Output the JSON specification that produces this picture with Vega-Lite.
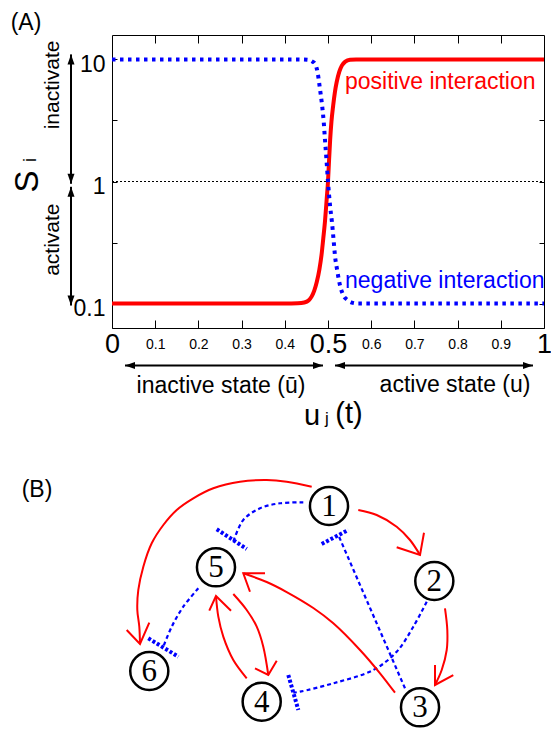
{
  "$schema": "https://vega.github.io/schema/vega-lite/v6.json",
  "width": 432,
  "height": 293,
  "autosize": "none",
  "padding": {"left": 112, "top": 35, "right": 7, "bottom": 402},
  "background": "white",
  "config": {
    "view": {"stroke": "black", "strokeWidth": 1},
    "font": "Liberation Sans",
    "axis": {"grid": false, "domain": false, "title": null, "labelFont": "Liberation Sans", "labelColor": "black", "tickColor": "black", "tickWidth": 1, "labelOverlap": false, "labelFlush": false, "labelBound": false}
  },
  "datasets": {
    "positive": [
      {"u": 0, "s": 0.1}, {"u": 0.4, "s": 0.1}, {"u": 0.43, "s": 0.1005}, {"u": 0.445, "s": 0.102},
      {"u": 0.455, "s": 0.106}, {"u": 0.462, "s": 0.114}, {"u": 0.468, "s": 0.127}, {"u": 0.474, "s": 0.15},
      {"u": 0.48, "s": 0.19}, {"u": 0.485, "s": 0.25}, {"u": 0.489, "s": 0.34}, {"u": 0.493, "s": 0.47},
      {"u": 0.497, "s": 0.72}, {"u": 0.5, "s": 1.0}, {"u": 0.5025, "s": 1.5}, {"u": 0.505, "s": 2.2},
      {"u": 0.508, "s": 3.1}, {"u": 0.512, "s": 4.2}, {"u": 0.516, "s": 5.4}, {"u": 0.52, "s": 6.5},
      {"u": 0.526, "s": 7.9}, {"u": 0.532, "s": 8.9}, {"u": 0.54, "s": 9.6}, {"u": 0.551, "s": 9.95},
      {"u": 0.565, "s": 10}, {"u": 1, "s": 10}
    ],
    "negative": [
      {"u": 0, "s": 10}, {"u": 0.42, "s": 10}, {"u": 0.44, "s": 9.98}, {"u": 0.455, "s": 9.9},
      {"u": 0.464, "s": 9.6}, {"u": 0.47, "s": 9.2}, {"u": 0.476, "s": 7.8}, {"u": 0.4815, "s": 5.7},
      {"u": 0.486, "s": 4.3}, {"u": 0.49, "s": 3.1}, {"u": 0.493, "s": 2.2}, {"u": 0.4965, "s": 1.5},
      {"u": 0.5, "s": 1.0}, {"u": 0.505, "s": 0.62}, {"u": 0.509, "s": 0.47}, {"u": 0.513, "s": 0.33},
      {"u": 0.516, "s": 0.25}, {"u": 0.521, "s": 0.19}, {"u": 0.528, "s": 0.14}, {"u": 0.535, "s": 0.118},
      {"u": 0.545, "s": 0.107}, {"u": 0.555, "s": 0.102}, {"u": 0.57, "s": 0.1}, {"u": 1, "s": 0.1}
    ],
    "level": [{"u": 0, "s": 1}, {"u": 1, "s": 1}],
    "curveLabels": [
      {"u": 0.5394, "s": 5.73, "label": "positive interaction", "sign": "positive"},
      {"u": 0.5394, "s": 0.135, "label": "negative interaction", "sign": "negative"}
    ],
    "arrowShafts": [
      {"u": -0.0949, "s": 10.99, "u2": -0.0949, "s2": 0.958},
      {"u": -0.0949, "s": 0.905, "u2": -0.0949, "s2": 0.0964},
      {"u": 0.0301, "s": 0.0311, "u2": 0.4884, "s2": 0.0311},
      {"u": 0.5162, "s": 0.0311, "u2": 0.9745, "s2": 0.0311}
    ],
    "arrowTips": [
      {"u": -0.0949, "s": 10.99, "points": "up"},
      {"u": -0.0949, "s": 0.958, "points": "down"},
      {"u": -0.0949, "s": 0.905, "points": "up"},
      {"u": -0.0949, "s": 0.0964, "points": "down"},
      {"u": 0.0301, "s": 0.0311, "points": "left"},
      {"u": 0.4884, "s": 0.0311, "points": "right"},
      {"u": 0.5162, "s": 0.0311, "points": "left"},
      {"u": 0.9745, "s": 0.0311, "points": "right"}
    ],
    "nodes": [
      {"id": "1", "x": 50.23, "y": 51.85},
      {"id": "2", "x": 74.61, "y": 34.49},
      {"id": "3", "x": 71.3, "y": 5.25},
      {"id": "4", "x": 34.65, "y": 6.55},
      {"id": "5", "x": 24.07, "y": 37.66},
      {"id": "6", "x": 8.63, "y": 13.66}
    ],
    "activation": [
      {"edge": "1-6", "i": 0, "x": 46.23, "y": 56.32}, {"edge": "1-6", "i": 1, "x": 40.44, "y": 57.48},
      {"edge": "1-6", "i": 2, "x": 35.81, "y": 57.87}, {"edge": "1-6", "i": 3, "x": 29.63, "y": 57.48},
      {"edge": "1-6", "i": 4, "x": 23.45, "y": 55.95}, {"edge": "1-6", "i": 5, "x": 18.82, "y": 53.63},
      {"edge": "1-6", "i": 6, "x": 14.98, "y": 50.93}, {"edge": "1-6", "i": 7, "x": 11.88, "y": 47.45},
      {"edge": "1-6", "i": 8, "x": 9.19, "y": 43.22}, {"edge": "1-6", "i": 9, "x": 7.25, "y": 37.8},
      {"edge": "1-6", "i": 10, "x": 6.09, "y": 32.41}, {"edge": "1-6", "i": 11, "x": 5.86, "y": 27.78},
      {"edge": "1-6", "i": 12, "x": 6.32, "y": 23.91}, {"edge": "1-6", "i": 13, "x": 6.48, "y": 19.91},
      {"edge": "1-2", "i": 0, "x": 57.01, "y": 50.93}, {"edge": "1-2", "i": 1, "x": 61.27, "y": 49.77},
      {"edge": "1-2", "i": 2, "x": 65.9, "y": 47.06}, {"edge": "1-2", "i": 3, "x": 68.98, "y": 43.98},
      {"edge": "1-2", "i": 4, "x": 71.3, "y": 40.51},
      {"edge": "2-3", "i": 0, "x": 77.08, "y": 28.17}, {"edge": "2-3", "i": 1, "x": 77.62, "y": 23.15},
      {"edge": "2-3", "i": 2, "x": 77.48, "y": 18.52}, {"edge": "2-3", "i": 3, "x": 76.32, "y": 13.89},
      {"edge": "2-3", "i": 4, "x": 74.77, "y": 10.42},
      {"edge": "3-5", "i": 0, "x": 65.51, "y": 8.63}, {"edge": "3-5", "i": 1, "x": 62.04, "y": 13.13},
      {"edge": "3-5", "i": 2, "x": 57.41, "y": 18.52}, {"edge": "3-5", "i": 3, "x": 51.23, "y": 24.7},
      {"edge": "3-5", "i": 4, "x": 46.6, "y": 28.24}, {"edge": "3-5", "i": 5, "x": 40.44, "y": 31.94},
      {"edge": "3-5", "i": 6, "x": 35.81, "y": 34.26}, {"edge": "3-5", "i": 7, "x": 30.39, "y": 36.27},
      {"edge": "5-4", "i": 0, "x": 28.08, "y": 31.48}, {"edge": "5-4", "i": 1, "x": 31.18, "y": 27.78},
      {"edge": "5-4", "i": 2, "x": 33.5, "y": 23.91}, {"edge": "5-4", "i": 3, "x": 35.02, "y": 19.28},
      {"edge": "5-4", "i": 4, "x": 36.18, "y": 12.73},
      {"edge": "4-5", "i": 0, "x": 31.18, "y": 11.97}, {"edge": "4-5", "i": 1, "x": 28.08, "y": 16.2},
      {"edge": "4-5", "i": 2, "x": 25.76, "y": 21.6}, {"edge": "4-5", "i": 3, "x": 24.61, "y": 26.23},
      {"edge": "4-5", "i": 4, "x": 24.07, "y": 31.02}
    ],
    "activationHeads": [
      {"edge": "1-6", "i": 0, "x": 3.4, "y": 23.15}, {"edge": "1-6", "i": 1, "x": 6.48, "y": 19.91}, {"edge": "1-6", "i": 2, "x": 8.63, "y": 24.84},
      {"edge": "1-2", "i": 0, "x": 65.9, "y": 42.29}, {"edge": "1-2", "i": 1, "x": 71.3, "y": 40.51}, {"edge": "1-2", "i": 2, "x": 72.22, "y": 45.67},
      {"edge": "2-3", "i": 0, "x": 74.77, "y": 15.05}, {"edge": "2-3", "i": 1, "x": 74.77, "y": 10.42}, {"edge": "2-3", "i": 2, "x": 79.0, "y": 12.73},
      {"edge": "3-5", "i": 0, "x": 35.42, "y": 36.27}, {"edge": "3-5", "i": 1, "x": 30.39, "y": 36.27}, {"edge": "3-5", "i": 2, "x": 31.94, "y": 32.01},
      {"edge": "5-4", "i": 0, "x": 33.1, "y": 14.28}, {"edge": "5-4", "i": 1, "x": 36.18, "y": 12.73}, {"edge": "5-4", "i": 2, "x": 38.13, "y": 16.04},
      {"edge": "4-5", "i": 0, "x": 22.52, "y": 27.62}, {"edge": "4-5", "i": 1, "x": 24.07, "y": 31.02}, {"edge": "4-5", "i": 2, "x": 27.55, "y": 27.62}
    ],
    "inhibition": [
      {"edge": "1-5", "i": 0, "x": 44.28, "y": 52.71}, {"edge": "1-5", "i": 1, "x": 38.89, "y": 52.48},
      {"edge": "1-5", "i": 2, "x": 34.26, "y": 51.32}, {"edge": "1-5", "i": 3, "x": 30.39, "y": 48.61},
      {"edge": "1-5", "i": 4, "x": 28.08, "y": 43.59},
      {"edge": "5-6", "i": 0, "x": 19.98, "y": 32.8}, {"edge": "5-6", "i": 1, "x": 16.5, "y": 28.54},
      {"edge": "5-6", "i": 2, "x": 13.82, "y": 23.91}, {"edge": "5-6", "i": 3, "x": 11.88, "y": 19.28},
      {"edge": "3-1", "i": 0, "x": 67.82, "y": 9.65}, {"edge": "3-1", "i": 1, "x": 52.38, "y": 45.14},
      {"edge": "2-4", "i": 0, "x": 72.85, "y": 29.7}, {"edge": "2-4", "i": 1, "x": 69.75, "y": 23.91},
      {"edge": "2-4", "i": 2, "x": 65.9, "y": 18.13}, {"edge": "2-4", "i": 3, "x": 60.49, "y": 13.89},
      {"edge": "2-4", "i": 4, "x": 51.23, "y": 10.81}, {"edge": "2-4", "i": 5, "x": 43.52, "y": 8.87},
      {"edge": "2-4", "i": 6, "x": 41.97, "y": 8.63}
    ],
    "inhibitionBars": [
      {"edge": "1-5", "i": 0, "x": 24.24, "y": 46.46}, {"edge": "1-5", "i": 1, "x": 31.18, "y": 41.9},
      {"edge": "5-6", "i": 0, "x": 8.4, "y": 21.23}, {"edge": "5-6", "i": 1, "x": 15.35, "y": 16.97},
      {"edge": "3-1", "i": 0, "x": 48.54, "y": 43.06}, {"edge": "3-1", "i": 1, "x": 54.7, "y": 46.3},
      {"edge": "2-4", "i": 0, "x": 40.81, "y": 12.73}, {"edge": "2-4", "i": 1, "x": 43.13, "y": 4.63}
    ]
  },
  "layer": [
    {
      "encoding": {
        "x": {"field": "u", "type": "quantitative", "scale": {"domain": [0, 1], "nice": false, "zero": false}, "axis": null},
        "y": {"field": "s", "type": "quantitative", "scale": {"type": "log", "domain": [0.0631, 15.85], "nice": false}, "axis": null}
      },
      "layer": [
        {
          "data": {"name": "level"},
          "mark": {"type": "line", "color": "black", "strokeWidth": 1, "strokeDash": [2, 2]}
        },
        {
          "data": {"name": "positive"},
          "mark": {"type": "line", "color": "#ff0000", "strokeWidth": 4, "interpolate": "monotone"},
          "encoding": {
            "x": {"field": "u", "type": "quantitative", "scale": {"domain": [0, 1], "nice": false, "zero": false},
              "axis": {"orient": "bottom", "values": [0, 0.1, 0.2, 0.3, 0.4, 0.5, 0.6, 0.7, 0.8, 0.9, 1], "offset": -8, "tickSize": 8,
                "labelExpr": "datum.value + ''", "labelBaseline": "middle", "labelPadding": 16,
                "labelFontSize": {"condition": {"test": "datum.value == 0 || datum.value == 0.5 || datum.value == 1", "value": 27}, "value": 14}}},
            "y": {"field": "s", "type": "quantitative", "scale": {"type": "log", "domain": [0.0631, 15.85], "nice": false},
              "axis": {"orient": "left", "values": [0.1, 0.31623, 1, 3.1623, 10], "offset": -5, "tickSize": 5,
                "labelExpr": "datum.value == 0.1 || datum.value == 1 || datum.value == 10 ? datum.value + '' : ''",
                "labelFontSize": 23, "labelPadding": 7, "labelBaseline": "middle", "labelOffset": 5}}
          }
        },
        {
          "data": {"name": "negative"},
          "mark": {"type": "line", "color": "#0000ff", "strokeWidth": 4, "strokeDash": [3.5, 4.5], "interpolate": "monotone"},
          "encoding": {
            "x": {"field": "u", "type": "quantitative", "scale": {"domain": [0, 1], "nice": false, "zero": false},
              "axis": {"orient": "top", "values": [0.1, 0.2, 0.3, 0.4, 0.5, 0.6, 0.7, 0.8, 0.9], "offset": -8, "tickSize": 8, "labels": false}},
            "y": {"field": "s", "type": "quantitative", "scale": {"type": "log", "domain": [0.0631, 15.85], "nice": false},
              "axis": {"orient": "right", "values": [0.1, 0.31623, 1, 3.1623, 10], "offset": -5, "tickSize": 5, "labels": false}}
          }
        },
        {
          "data": {"name": "curveLabels"},
          "mark": {"type": "text", "align": "left", "baseline": "alphabetic", "fontSize": 23},
          "encoding": {
            "text": {"field": "label"},
            "color": {"field": "sign", "type": "nominal", "scale": {"domain": ["positive", "negative"], "range": ["#ff0000", "#0000ff"]}, "legend": null}
          }
        },
        {
          "data": {"name": "arrowShafts"},
          "mark": {"type": "rule", "color": "black", "strokeWidth": 2},
          "encoding": {"x2": {"field": "u2"}, "y2": {"field": "s2"}}
        },
        {
          "data": {"name": "arrowTips"},
          "mark": {"type": "point", "filled": true, "color": "black", "size": 100, "opacity": 1, "strokeWidth": 0},
          "encoding": {
            "shape": {"field": "points", "type": "nominal", "legend": null,
              "scale": {"domain": ["up", "right", "down", "left"],
                "range": ["M0,0L0.7,2L-0.7,2Z", "M0,0L-2,0.7L-2,-0.7Z", "M0,0L0.7,-2L-0.7,-2Z", "M0,0L2,0.7L2,-0.7Z"]}}
          }
        },
        {
          "data": {"values": [{"u": -0.1366, "s": 6.18, "label": "inactivate"}, {"u": -0.1366, "s": 0.334, "label": "activate"}]},
          "mark": {"type": "text", "angle": 270, "fontSize": 21, "align": "center", "baseline": "middle", "color": "black"},
          "encoding": {"text": {"field": "label"}}
        },
        {
          "data": {"values": [{"u": -0.1944, "s": 1.0, "label": "S"}]},
          "mark": {"type": "text", "angle": 270, "fontSize": 33, "align": "center", "baseline": "middle", "color": "black"},
          "encoding": {"text": {"field": "label"}}
        },
        {
          "data": {"values": [{"u": -0.1875, "s": 1.5, "label": "i"}]},
          "mark": {"type": "text", "angle": 270, "fontSize": 18, "align": "center", "baseline": "middle", "color": "black"},
          "encoding": {"text": {"field": "label"}}
        },
        {
          "data": {"values": [
            {"u": 0.2523, "s": 0.02096, "label": "inactive state (ū)"},
            {"u": 0.794, "s": 0.02136, "label": "active state (u)"},
            {"u": -0.199, "s": 19.85, "label": "(A)"}
          ]},
          "mark": {"type": "text", "fontSize": 23, "align": "center", "baseline": "middle", "color": "black"},
          "encoding": {"text": {"field": "label"}}
        },
        {
          "data": {"values": [{"u": 0.463, "s": 0.01006, "label": "u"}, {"u": 0.5486, "s": 0.01045, "label": "(t)"}]},
          "mark": {"type": "text", "fontSize": 29, "align": "center", "baseline": "alphabetic", "color": "black"},
          "encoding": {"text": {"field": "label"}}
        },
        {
          "data": {"values": [{"u": 0.4977, "s": 0.01026, "label": "j"}]},
          "mark": {"type": "text", "fontSize": 17, "align": "center", "baseline": "alphabetic", "color": "black"},
          "encoding": {"text": {"field": "label"}}
        }
      ],
      "resolve": {"axis": {"x": "independent", "y": "independent"}}
    },
    {
      "encoding": {
        "x": {"field": "x", "type": "quantitative", "scale": {"domain": [0, 100], "nice": false, "zero": false}, "axis": null},
        "y": {"field": "y", "type": "quantitative", "scale": {"domain": [0, 60], "range": [695, 435.8], "nice": false, "zero": false}, "axis": null}
      },
      "layer": [
        {
          "data": {"name": "inhibition"},
          "mark": {"type": "line", "color": "#0000ff", "strokeWidth": 2.2, "strokeDash": [4, 3], "interpolate": "catmull-rom"},
          "encoding": {"detail": {"field": "edge"}, "order": {"field": "i", "type": "quantitative"}}
        },
        {
          "data": {"name": "inhibitionBars"},
          "mark": {"type": "line", "color": "#0000ff", "strokeWidth": 4, "strokeDash": [3, 2]},
          "encoding": {"detail": {"field": "edge"}, "order": {"field": "i", "type": "quantitative"}}
        },
        {
          "data": {"name": "activation"},
          "mark": {"type": "line", "color": "#ff0000", "strokeWidth": 2, "interpolate": "catmull-rom"},
          "encoding": {"detail": {"field": "edge"}, "order": {"field": "i", "type": "quantitative"}}
        },
        {
          "data": {"name": "activationHeads"},
          "mark": {"type": "line", "color": "#ff0000", "strokeWidth": 2},
          "encoding": {"detail": {"field": "edge"}, "order": {"field": "i", "type": "quantitative"}}
        },
        {
          "data": {"name": "nodes"},
          "mark": {"type": "point", "shape": "circle", "size": 1450, "filled": true, "fill": "white", "stroke": "black", "strokeWidth": 2.5, "opacity": 1}
        },
        {
          "data": {"name": "nodes"},
          "mark": {"type": "text", "font": "Liberation Serif", "fontSize": 31, "align": "center", "baseline": "middle", "color": "black", "dy": 1},
          "encoding": {"text": {"field": "id"}}
        },
        {
          "data": {"values": [{"x": -17.36, "y": 55.56, "label": "(B)"}]},
          "mark": {"type": "text", "fontSize": 23, "align": "center", "baseline": "middle", "color": "black"},
          "encoding": {"text": {"field": "label"}}
        }
      ]
    }
  ],
  "resolve": {"scale": {"x": "independent", "y": "independent"}}
}
